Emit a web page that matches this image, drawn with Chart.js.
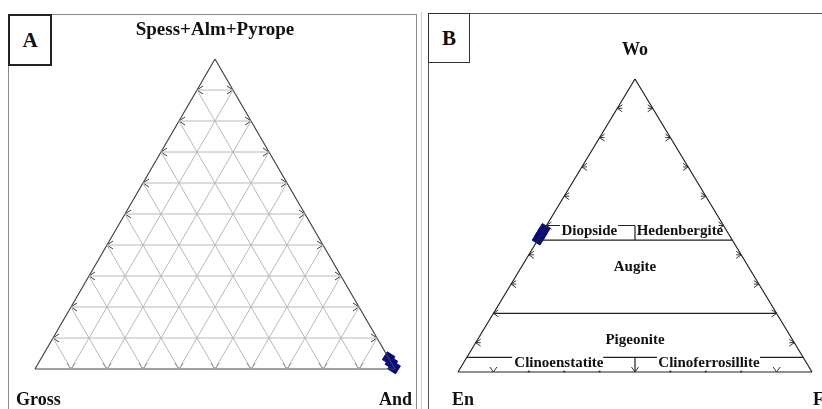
<!DOCTYPE html>
<html>
<head>
<meta charset="utf-8">
<script src="https://cdn.jsdelivr.net/npm/chart.js@4.4.1/dist/chart.umd.min.js"></script>
<style>
  html, body { margin: 0; padding: 0; background: #fff; overflow: hidden; }
  #page { position: relative; width: 822px; height: 409px; overflow: hidden; }
  #page canvas { position: absolute; left: 0; top: 0; }
  .frame { position: absolute; box-sizing: border-box; border: 1px solid #8a8a8a; }
  .tag { position: absolute; box-sizing: border-box; display: flex; align-items: center; justify-content: center;
         font: bold 21px "Liberation Serif", "Times New Roman", serif; color: #111; background: #fff; }
</style>
</head>
<body>
<div id="page">
  <div class="frame" style="left:8px;top:14px;width:409px;height:430px"></div>
  <div style="position:absolute;left:421px;top:12px;width:1px;height:420px;background:#cfcfcf"></div>
  <div class="frame" style="left:428px;top:13px;width:430px;height:430px;border-color:#555"></div>
  <div class="tag" style="left:8px;top:14px;width:44px;height:52px;border:2px solid #222">A</div>
  <div class="tag" style="left:428px;top:13px;width:42px;height:50px;border:1.5px solid #333">B</div>
  <canvas id="chartA" width="822" height="409"></canvas>
  <canvas id="chartB" width="822" height="409"></canvas>
</div>
<script>
// garnet triangle (A), values in %
const garnetTicks = [10, 20, 30, 40, 50, 60, 70, 80, 90];
const garnetGross = [0, 0, 0];
const garnetAnd   = [96.5, 98.0, 99.5];
const garnetSAP   = [3.5, 2.0, 0.5];   // Spess+Alm+Pyrope

// pyroxene triangle (B), values in %
const pxTicks = [10, 20, 30, 40, 50, 60, 70, 80, 90];
const pxWo = [48.5, 47.0, 45.5];
const pxEn = [51.5, 53.0, 54.5];
const pxFs = [0, 0, 0];

// field boundaries: Wo level and Fs span (gaps left for the field names)
const boundaryWo     = [50, 50, 45, 20, 5, 5, 5];
const boundaryFsFrom = [0, 20.2, 0, 0, 0, 38.5, 82.8];
const boundaryFsTo   = [3.8, 25, 55, 80, 12.8, 53.7, 95];
// En = Fs dividers, Wo span
const dividerWoFrom = [45, 0];
const dividerWoTo   = [50, 5];
const fieldNames = ['Diopside', 'Hedenbergite', 'Augite', 'Pigeonite', 'Clinoenstatite', 'Clinoferrosillite'];

const W = 822, H = 409;
const SERIF = '"Liberation Serif", "Times New Roman", serif';
const NAVY = '#0a0a80';

// ternary -> cartesian (x along base 0..1, y up 0..1)
function garnetXY(gross, and, sap) {
  const s = gross + and + sap;
  return { x: (and + sap / 2) / s, y: sap / s };
}
function pxXY(en, fs, wo) {
  const s = en + fs + wo;
  return { x: (fs + wo / 2) / s, y: wo / s };
}

// scale limits so the triangle lands at the given pixel box
function scalesFor(g) {
  const kx = g.right - g.left, ky = g.bottom - g.top;
  return {
    x: { type: 'linear', display: false, min: -g.left / kx, max: (W - g.left) / kx },
    y: { type: 'linear', display: false, min: -(H - g.bottom) / ky, max: 1 + g.top / ky }
  };
}

const GAP = { x: NaN, y: NaN };
function segments(pairs, color, width) {
  const data = [];
  pairs.forEach(p => { data.push(p[0], p[1], GAP); });
  return { data, showLine: true, borderColor: color, borderWidth: width, pointRadius: 0, spanGaps: false };
}

function textPlugin(items) {
  return {
    id: 'ternaryText',
    afterDatasetsDraw(chart) {
      const { ctx, scales: { x, y } } = chart;
      ctx.save();
      ctx.fillStyle = '#111';
      ctx.textBaseline = 'alphabetic';
      items.forEach(it => {
        ctx.font = it.font;
        ctx.textAlign = it.align || 'center';
        ctx.fillText(it.text, x.getPixelForValue(it.x) + (it.dx || 0), y.getPixelForValue(it.y) + (it.dy || 0));
      });
      ctx.restore();
    }
  };
}

// small arrowhead tick marks on the triangle edges
function tickPlugin(ticks, style) {
  return {
    id: 'ternaryTicks',
    beforeDatasetsDraw(chart) {
      const { ctx, scales: { x, y } } = chart;
      ctx.save();
      ctx.strokeStyle = style.color;
      ctx.fillStyle = style.color;
      ctx.lineWidth = style.width;
      ticks.forEach(t => {
        const px = x.getPixelForValue(t.x), py = y.getPixelForValue(t.y);
        const a = style.arm, b = style.spread, tail = style.tail;
        ctx.beginPath();
        if (t.dir === 'dot') {
          ctx.arc(px, py - 0.5, 1.1, 0, Math.PI * 2);
          ctx.fill();
          return;
        }
        if (t.dir === 'left') {
          ctx.moveTo(px + a, py - b); ctx.lineTo(px, py); ctx.lineTo(px + a, py + b);
          if (tail) { ctx.moveTo(px, py); ctx.lineTo(px + tail, py); }
        } else if (t.dir === 'right') {
          ctx.moveTo(px - a, py - b); ctx.lineTo(px, py); ctx.lineTo(px - a, py + b);
          if (tail) { ctx.moveTo(px, py); ctx.lineTo(px - tail, py); }
        } else {
          ctx.moveTo(px - b, py - a); ctx.lineTo(px, py); ctx.lineTo(px + b, py - a);
        }
        ctx.stroke();
      });
      ctx.restore();
    }
  };
}

const baseOptions = (geom) => ({
  responsive: false, animation: false, devicePixelRatio: 1,
  layout: { padding: 0, autoPadding: false },
  scales: scalesFor(geom),
  plugins: { legend: { display: false }, tooltip: { enabled: false } }
});

// ---------- chart A ----------
const geomA = { left: 35, right: 395, top: 59, bottom: 369 };
const gridA = [];
garnetTicks.forEach(t => {
  gridA.push([garnetXY(100 - t, 0, t), garnetXY(0, 100 - t, t)]);     // const SAP
  gridA.push([garnetXY(100 - t, t, 0), garnetXY(0, t, 100 - t)]);     // const And
  gridA.push([garnetXY(t, 100 - t, 0), garnetXY(t, 0, 100 - t)]);     // const Gross
});
const outlineA = [[garnetXY(100, 0, 0), garnetXY(0, 100, 0)], [garnetXY(0, 100, 0), garnetXY(0, 0, 100)], [garnetXY(0, 0, 100), garnetXY(100, 0, 0)]];
const ticksA = [];
garnetTicks.forEach(t => {
  const l = garnetXY(100 - t, 0, t), r = garnetXY(0, 100 - t, t), b = garnetXY(100 - t, t, 0);
  ticksA.push({ x: l.x, y: l.y, dir: 'left' }, { x: r.x, y: r.y, dir: 'right' }, { x: b.x, y: b.y, dir: 'down' });
});

new Chart(document.getElementById('chartA'), {
  type: 'scatter',
  data: {
    datasets: [
      segments(gridA, '#b8b8b8', 1),
      segments(outlineA, '#444', 1.2),
      {
        data: garnetGross.map((g, i) => garnetXY(g, garnetAnd[i], garnetSAP[i])),
        pointStyle: 'rect', rotation: 32, pointRadius: 6.5,
        backgroundColor: NAVY, borderColor: NAVY, borderWidth: 1
      }
    ]
  },
  options: baseOptions(geomA),
  plugins: [
    tickPlugin(ticksA, { color: '#3a3a3a', width: 1, arm: 6, spread: 4, tail: 0 }),
    textPlugin([
      { text: 'Spess+Alm+Pyrope', x: 0.5, y: 1, dy: -24, font: 'bold 19px ' + SERIF },
      { text: 'Gross', x: 0, y: 0, dx: -19, dy: 36, align: 'left', font: 'bold 18px ' + SERIF },
      { text: 'And', x: 1, y: 0, dx: 17, dy: 36, align: 'right', font: 'bold 18px ' + SERIF }
    ])
  ]
});

// ---------- chart B ----------
const geomB = { left: 458, right: 812, top: 79, bottom: 372 };
const outlineB = [[pxXY(100, 0, 0), pxXY(0, 100, 0)], [pxXY(0, 100, 0), pxXY(0, 0, 100)], [pxXY(0, 0, 100), pxXY(100, 0, 0)]];
const fieldLines = boundaryWo.map((wo, i) => [
  pxXY(100 - wo - boundaryFsFrom[i], boundaryFsFrom[i], wo),
  pxXY(100 - wo - boundaryFsTo[i], boundaryFsTo[i], wo)
]);
dividerWoFrom.forEach((w0, i) => {
  const w1 = dividerWoTo[i];
  fieldLines.push([pxXY((100 - w0) / 2, (100 - w0) / 2, w0), pxXY((100 - w1) / 2, (100 - w1) / 2, w1)]);
});
const ticksB = [];
pxTicks.forEach(t => {
  const l = pxXY(100 - t, 0, t), r = pxXY(0, 100 - t, t), b = pxXY(100 - t, t, 0);
  ticksB.push({ x: l.x, y: l.y, dir: 'left' }, { x: r.x, y: r.y, dir: 'right' });
  ticksB.push({ x: b.x, y: b.y, dir: (t === 10 || t === 50 || t === 90) ? 'down' : 'dot' });
});

new Chart(document.getElementById('chartB'), {
  type: 'scatter',
  data: {
    datasets: [
      segments(outlineB, '#222', 1.2),
      segments(fieldLines, '#222', 1.2),
      {
        data: pxEn.map((en, i) => pxXY(en, pxFs[i], pxWo[i])),
        pointStyle: 'rect', rotation: 32, pointRadius: 6.5,
        backgroundColor: NAVY, borderColor: NAVY, borderWidth: 1
      }
    ]
  },
  options: baseOptions(geomB),
  plugins: [
    tickPlugin(ticksB, { color: '#333', width: 1, arm: 5, spread: 3.5, tail: 5 }),
    textPlugin([
      { text: 'Wo', x: 0.5, y: 1, dy: -24, font: 'bold 18px ' + SERIF },
      { text: 'En', x: 0, y: 0, dx: -6, dy: 33, align: 'left', font: 'bold 18px ' + SERIF },
      { text: 'Fs', x: 1, y: 0, dx: 1, dy: 33, align: 'left', font: 'bold 18px ' + SERIF },
      { text: fieldNames[0], x: 0.371, y: 0.466, font: 'bold 15px ' + SERIF },
      { text: fieldNames[1], x: 0.627, y: 0.466, font: 'bold 15px ' + SERIF },
      { text: fieldNames[2], x: 0.5, y: 0.345, font: 'bold 15px ' + SERIF },
      { text: fieldNames[3], x: 0.5, y: 0.096, font: 'bold 15px ' + SERIF },
      { text: fieldNames[4], x: 0.285, y: 0.0154, font: 'bold 15px ' + SERIF },
      { text: fieldNames[5], x: 0.709, y: 0.0154, font: 'bold 15px ' + SERIF }
    ])
  ]
});
</script>
</body>
</html>
